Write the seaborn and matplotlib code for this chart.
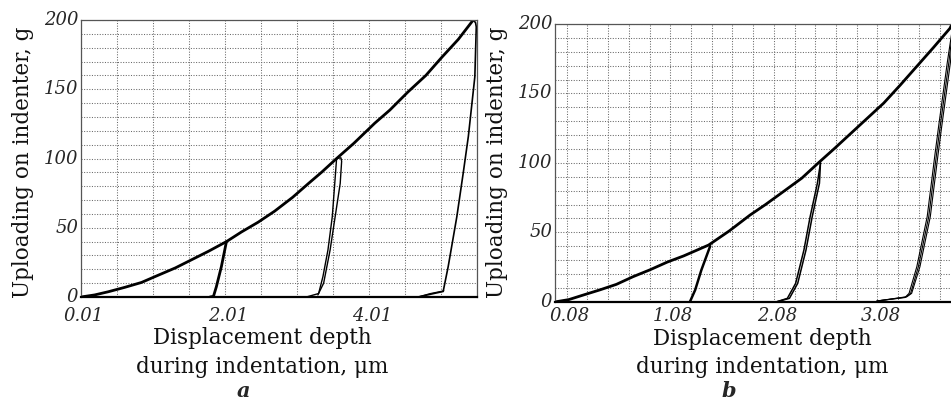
import matplotlib
matplotlib.use('Agg')
import matplotlib.pyplot as plt
from matplotlib.ticker import FixedLocator
from matplotlib.transforms import ScaledTranslation
import seaborn as sns
import numpy as np

# panel a: loading curve, g vs um
load_a_x = [0.01, 0.2, 0.39, 0.62, 0.85, 1.05, 1.32, 1.55, 1.78, 2.03, 2.24, 2.47, 2.70, 2.95,
            3.17, 3.35, 3.56, 3.80, 4.09, 4.30, 4.55, 4.80, 5.02, 5.25, 5.44, 5.46]
load_a_y = [0, 1.5, 3.8, 7, 10.5, 15, 21, 27, 33, 40, 47, 54, 62, 72,
            82, 90, 100, 111, 125.5, 135, 148, 160, 173, 186, 198.8, 200]
# unloading from 40 g
unl_a1_x = [2.03, 1.96, 1.89, 1.85, 1.80]
unl_a1_y = [40, 22, 7.4, 0.5, 0]
# unloading from 100 g (two edges of the bundle)
unl_a2l_x = [3.56, 3.50, 3.44, 3.37, 3.31, 3.14]
unl_a2l_y = [100, 58, 34, 14.7, 2.5, 0]
unl_a2r_x = [3.56, 3.62, 3.63, 3.61, 3.54, 3.47, 3.38, 3.30]
unl_a2r_y = [100, 100.5, 98, 82, 58, 34, 10, 1.5]
# unloading from 200 g
unl_a3_x = [5.46, 5.49, 5.50, 5.48, 5.39, 5.32, 5.23, 5.11, 5.04, 4.69]
unl_a3_y = [200, 198, 195, 159, 116, 90, 58, 22, 4, 0]
tail_a3_x = [5.05, 4.86, 4.69]
tail_a3_y = [4.5, 2.5, 0]

# panel b
load_b_x = [-0.02, 0.1, 0.24, 0.4, 0.56, 0.72, 0.885, 1.05, 1.21, 1.45, 1.65, 1.85, 2.0, 2.17,
            2.35, 2.51, 2.66, 2.82, 2.98, 3.14, 3.30, 3.46, 3.62, 3.78, 3.80]
load_b_y = [0, 1.5, 4.8, 8.5, 12.5, 18, 23, 28.5, 33, 40.8, 51, 62.4, 70, 79.2,
            89, 100, 110, 121, 132, 143, 156, 169.5, 183, 196.9, 200]
unl_b1_x = [1.465, 1.38, 1.32, 1.27]
unl_b1_y = [40, 22.8, 8.4, 0]
unl_b2l_x = [2.53, 2.50, 2.43, 2.37, 2.29, 2.21, 2.11]
unl_b2l_y = [100, 85.3, 61.2, 37.2, 13.2, 2.4, 0]
unl_b2r_x = [2.53, 2.52, 2.45, 2.39, 2.31, 2.23, 2.11]
unl_b2r_y = [100, 85.3, 61.2, 37.2, 13.2, 2.4, 0]
unl_b3a_x = [3.80, 3.785, 3.70, 3.665, 3.59, 3.49, 3.41, 3.365, 3.075]
unl_b3a_y = [188, 172.7, 126, 106, 61.2, 25.2, 6, 3.6, 0.5]
unl_b3b_x = [3.80, 3.755, 3.67, 3.635, 3.56, 3.46, 3.385, 3.345, 3.075]
unl_b3b_y = [195, 172.7, 126, 106, 61.2, 25.2, 6, 3.0, 0.5]
unl_b3c_x = [3.80, 3.77, 3.685, 3.65, 3.575, 3.475, 3.40, 3.355, 3.075]
unl_b3c_y = [192, 172.7, 126, 106, 61.2, 25.2, 6, 3.3, 0.5]

xt_a = [0.01, 2.01, 4.01]
xt_b = [0.08, 1.08, 2.08, 3.08]
yt = [0, 50, 100, 150, 200]

sns.set_style('white')
plt.rcParams['font.family'] = ['DejaVu Serif']

W, H = 951, 401
fig = plt.figure(figsize=(W / 100, H / 100), dpi=100)

def px_ax(l, t, r, b):
    return fig.add_axes([l / W, 1 - b / H, (r - l) / W, (b - t) / H])

ax_a = px_ax(81, 20, 477, 297)
ax_b = px_ax(555, 24, 951, 301.7)

grid_kw = dict(color='#6a6a6a', linestyle=(0, (1, 1.5)), linewidth=0.75)

def setup(ax, xlim, xticks, xminor, xpad):
    ax.set_xlim(*xlim)
    ax.set_ylim(0, 200)
    ax.xaxis.set_major_locator(FixedLocator(xticks))
    ax.xaxis.set_minor_locator(FixedLocator(xminor))
    ax.yaxis.set_major_locator(FixedLocator(yt))
    ax.yaxis.set_minor_locator(FixedLocator(np.arange(0, 201, 10)))
    ax.set_xticklabels([f'{v:.2f}' for v in xticks], fontstyle='italic', fontsize=13)
    ax.set_yticklabels([str(v) for v in yt], fontstyle='italic', fontsize=13)
    ax.grid(True, which='both', **grid_kw)
    ax.tick_params(which='both', direction='in', length=3, width=0.6, color='#444444')
    ax.tick_params(axis='y', which='major', pad=2)
    ax.tick_params(axis='x', which='major', pad=xpad)
    # italic labels sit a little right of their ticks, as in the scan
    for lbl in ax.get_xticklabels():
        lbl.set_transform(lbl.get_transform() + ScaledTranslation(3 / 100, 0, fig.dpi_scale_trans))
    for lbl in ax.get_yticklabels():
        lbl.set_transform(lbl.get_transform() + ScaledTranslation(0, 2 / 100, fig.dpi_scale_trans))
    for s in ['left', 'right', 'top']:
        ax.spines[s].set_color('#555555')
        ax.spines[s].set_linewidth(0.9)
    ax.spines['bottom'].set_color('black')
    ax.spines['bottom'].set_linewidth(1.6)
    ax.set_axisbelow(True)

def curve(ax, x, y, lw):
    sns.lineplot(x=x, y=y, ax=ax, sort=False, estimator=None, color='black', linewidth=lw)

curve(ax_a, load_a_x, load_a_y, 2.0)
curve(ax_a, unl_a1_x, unl_a1_y, 2.0)
curve(ax_a, unl_a2l_x, unl_a2l_y, 1.0)
curve(ax_a, unl_a2r_x, unl_a2r_y, 1.0)
curve(ax_a, unl_a3_x, unl_a3_y, 1.2)
curve(ax_a, tail_a3_x, tail_a3_y, 0.8)

curve(ax_b, load_b_x, load_b_y, 2.0)
curve(ax_b, unl_b1_x, unl_b1_y, 1.8)
curve(ax_b, unl_b2l_x, unl_b2l_y, 1.1)
curve(ax_b, unl_b2r_x, unl_b2r_y, 1.1)
curve(ax_b, unl_b3a_x, unl_b3a_y, 0.8)
curve(ax_b, unl_b3b_x, unl_b3b_y, 0.8)
curve(ax_b, unl_b3c_x, unl_b3c_y, 0.8)

setup(ax_a, (0.01, 5.51), xt_a, np.arange(0.01, 5.52, 0.5), 7)
setup(ax_b, (-0.033, 3.79), xt_b, np.arange(0.08, 3.79, 0.2), 3.5)
ax_b.spines['right'].set_visible(False)
for ax in (ax_a, ax_b):
    ax.set_xlabel('')
    ax.set_ylabel('')

lab_kw = dict(fontsize=15.5, ha='center', va='center', color='#111111')
fig.text(23 / W, 1 - 162 / H, 'Uploading on indenter, g', rotation=90, **lab_kw)
fig.text(497 / W, 1 - 162 / H, 'Uploading on indenter, g', rotation=90, **lab_kw)
fig.text(262 / W, 1 - 338 / H, 'Displacement depth', **lab_kw)
fig.text(262 / W, 1 - 367 / H, 'during indentation, \u03bcm', **lab_kw)
fig.text(762 / W, 1 - 339 / H, 'Displacement depth', **lab_kw)
fig.text(762 / W, 1 - 367 / H, 'during indentation, \u03bcm', **lab_kw)
fig.text(243 / W, 1 - 391 / H, 'a', fontsize=15, fontstyle='italic', fontweight='bold', ha='center', va='center')
fig.text(729 / W, 1 - 391 / H, 'b', fontsize=15, fontstyle='italic', fontweight='bold', ha='center', va='center')

fig.savefig('out.png', dpi=100)
